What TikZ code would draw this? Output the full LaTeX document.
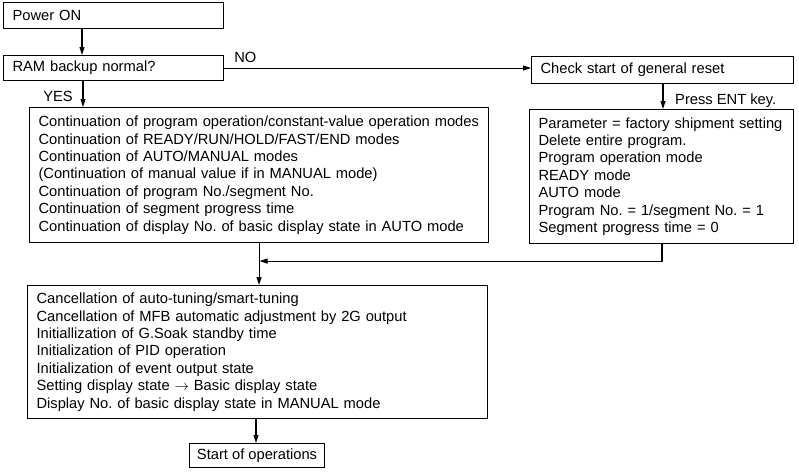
\documentclass[tikz,border=0pt]{standalone}
\usepackage{fontspec}
\setmainfont{Liberation Sans}
\usetikzlibrary{arrows.meta,calc}
\begin{document}
\frenchspacing
\begin{tikzpicture}[x=1pt,y=-1pt,
  every node/.style={font=\frenchspacing\fontsize{14.7}{17.4}\selectfont},
  box/.style={draw, line width=1.1pt, rectangle, anchor=north west, inner xsep=9pt, inner ysep=0pt, align=left},
  lbl/.style={inner sep=0pt},
  arr/.style={line width=1.1pt, -{Triangle[length=8pt,width=5pt]}},
  ln/.style={line width=1.1pt}]
\useasboundingbox (0,0) rectangle (799,471);
\node[box, minimum width=220, minimum height=26, text width=202] (pwr) at (3,2) {Power ON};
\node[box, minimum width=220, minimum height=25, text width=202] (ram) at (3,55) {RAM backup normal?};
\node[box, minimum width=262, minimum height=27, text width=244] (chk) at (531,56) {Check start of general reset};
\node[box, minimum width=264, minimum height=134, text width=246] (par) at (529,109) {Parameter = factory shipment setting\\
Delete entire program.\\
Program operation mode\\
READY mode\\
AUTO mode\\
Program No. = 1/segment No. = 1\\
Segment progress time = 0};
\node[box, minimum width=459, minimum height=135, text width=441] (cont) at (29,107) {Continuation of program operation/constant-value operation modes\\
Continuation of READY/RUN/HOLD/FAST/END modes\\
Continuation of AUTO/MANUAL modes\\
(Continuation of manual value if in MANUAL mode)\\
Continuation of program No./segment No.\\
Continuation of segment progress time\\
Continuation of display No. of basic display state in AUTO mode};
\node[box, minimum width=460, minimum height=133, text width=442] (canc) at (27,285) {Cancellation of auto-tuning/smart-tuning\\
Cancellation of MFB automatic adjustment by 2G output\\
Initiallization of G.Soak standby time\\
Initialization of PID operation\\
Initialization of event output state\\
Setting display state $\rightarrow$ Basic display state\\
Display No. of basic display state in MANUAL mode};
\node[draw, line width=1.1pt, anchor=north west, minimum width=135, minimum height=24, inner sep=0pt] (start) at (189,443) {Start of operations};
% connectors
\draw[arr] ($(pwr.south west)+(79,0)$) coordinate (p1) -- (p1 |- ram.north);
\draw[arr] ($(ram.south west)+(80,0)$) coordinate (y1) -- (y1 |- cont.north);
\node[lbl, anchor=east] (yes) at ($(y1)+(-10,15)$) {YES};
\draw[arr] (ram.east) -- (ram.east -| chk.west);
\node[lbl, anchor=south west] (no) at ($(ram.east)+(10,-5)$) {NO};
\draw[arr] ($(chk.south west)+(132,0)$) coordinate (c1) -- (c1 |- par.north);
\node[lbl, anchor=west] (ent) at ($(c1)+(12,17)$) {Press ENT key.};
\coordinate (join) at ($(cont.south)+(0,18)$);
\draw[arr] ($(par.south west)+(133,0)$) |- ($(join)+(0.5,0)$);
\draw[arr] (cont.south) -- (cont.south |- canc.north);
\draw[arr] ($(canc.south west)+(229,0)$) coordinate (s1) -- (s1 |- start.north);
\end{tikzpicture}
\end{document}
